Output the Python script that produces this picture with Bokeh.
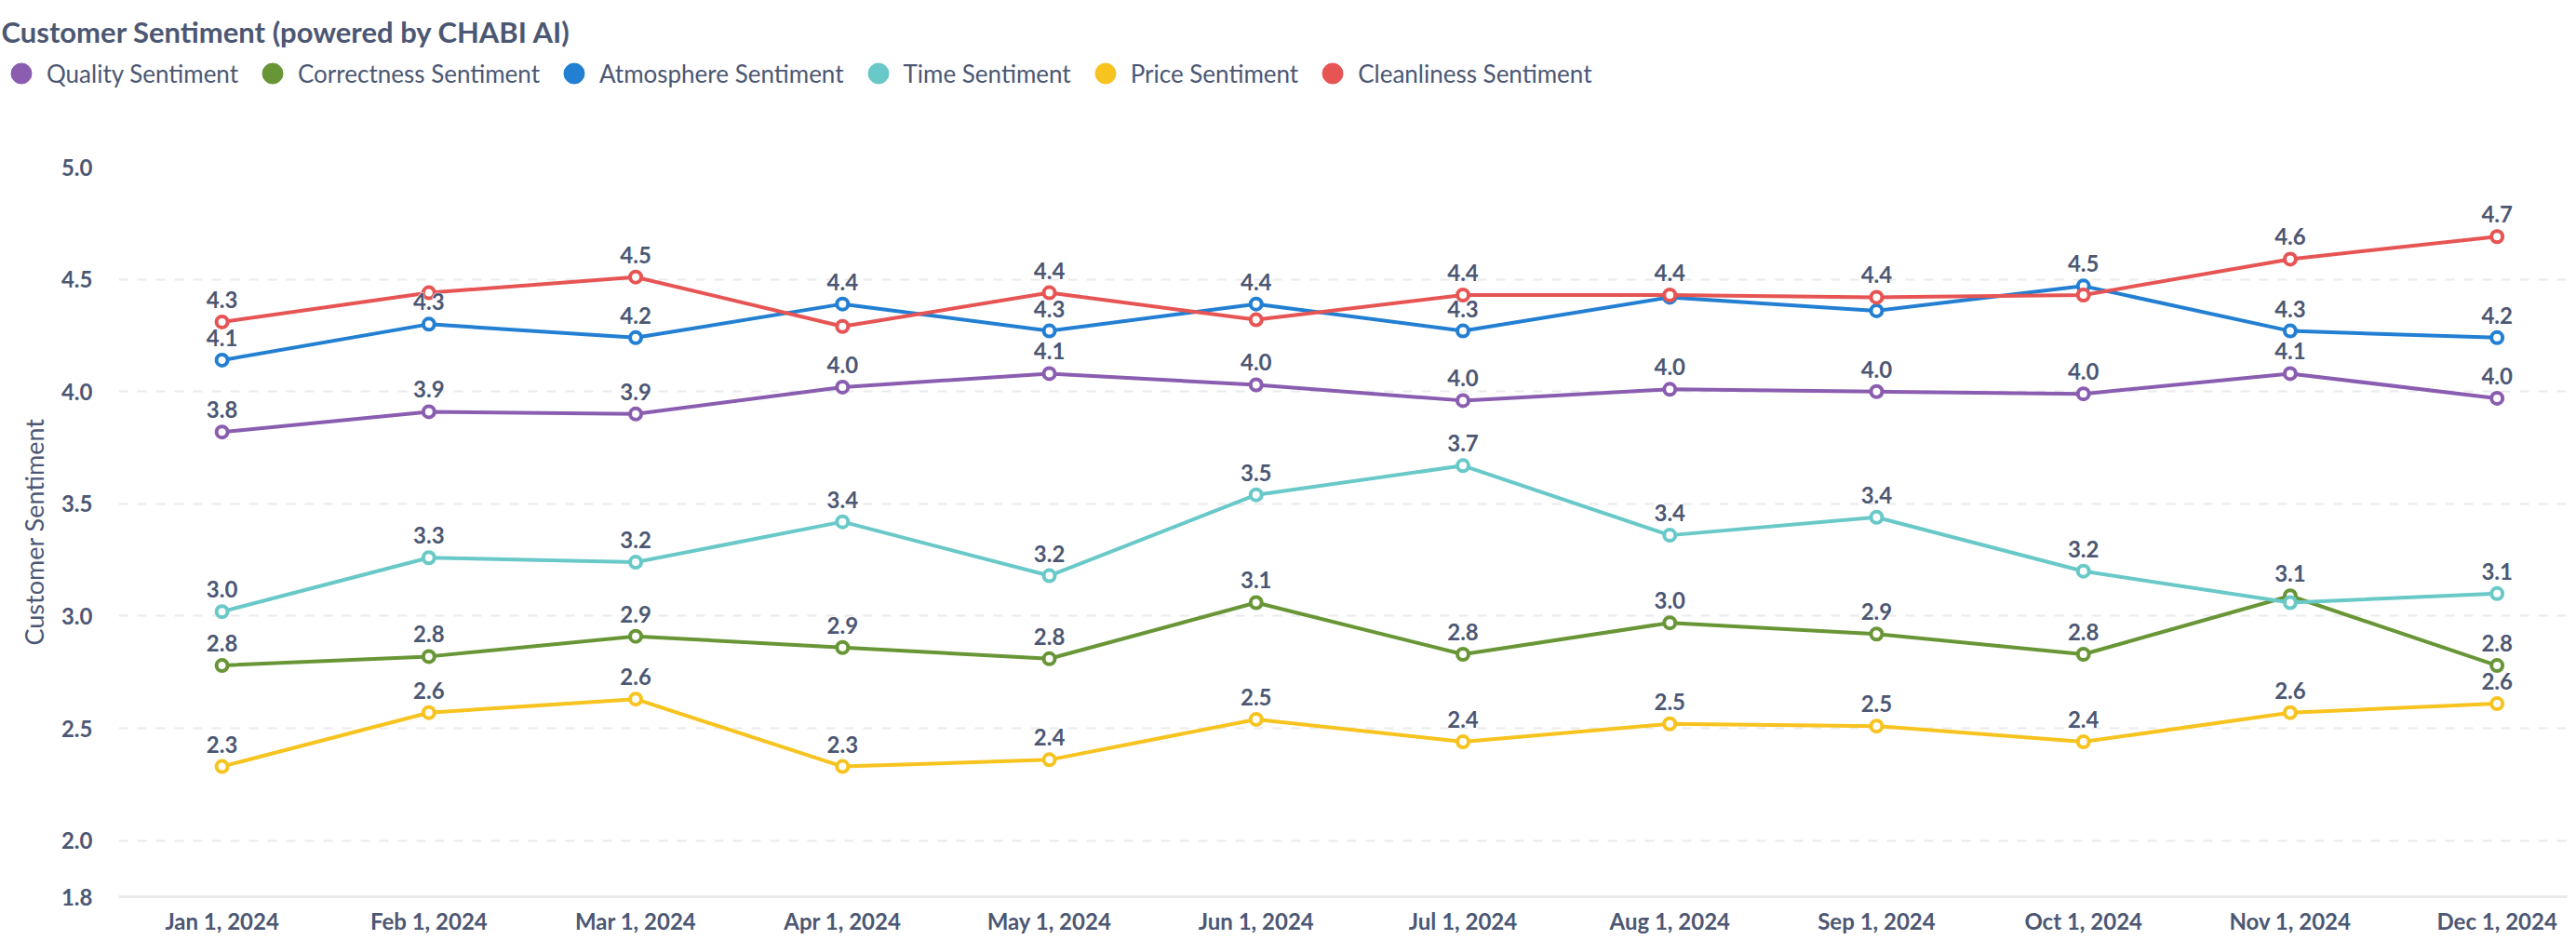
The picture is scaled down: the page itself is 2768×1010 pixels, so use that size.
from bokeh.plotting import figure
from bokeh.layouts import column
from bokeh.models import (Range1d, FixedTicker, PrintfTickFormatter, Legend, LegendItem,
                          Label, ColumnDataSource)
from bokeh.embed import file_html
from bokeh.resources import INLINE
from bokeh.core.properties import value

# ---------------- data ----------------
months = ["Jan 1, 2024", "Feb 1, 2024", "Mar 1, 2024", "Apr 1, 2024", "May 1, 2024",
          "Jun 1, 2024", "Jul 1, 2024", "Aug 1, 2024", "Sep 1, 2024", "Oct 1, 2024",
          "Nov 1, 2024", "Dec 1, 2024"]

quality = [3.82, 3.91, 3.90, 4.02, 4.08, 4.03, 3.96, 4.01, 4.00, 3.99, 4.08, 3.97]
correctness = [2.78, 2.82, 2.91, 2.86, 2.81, 3.06, 2.83, 2.97, 2.92, 2.83, 3.09, 2.78]
atmosphere = [4.14, 4.30, 4.24, 4.39, 4.27, 4.39, 4.27, 4.42, 4.36, 4.47, 4.27, 4.24]
time_s = [3.02, 3.26, 3.24, 3.42, 3.18, 3.54, 3.67, 3.36, 3.44, 3.20, 3.06, 3.10]
price = [2.33, 2.57, 2.63, 2.33, 2.36, 2.54, 2.44, 2.52, 2.51, 2.44, 2.57, 2.61]
cleanliness = [4.31, 4.44, 4.51, 4.29, 4.44, 4.32, 4.43, 4.43, 4.42, 4.43, 4.59, 4.69]

series_names = ["Quality Sentiment", "Correctness Sentiment", "Atmosphere Sentiment",
                "Time Sentiment", "Price Sentiment", "Cleanliness Sentiment"]
series_values = [quality, correctness, atmosphere, time_s, price, cleanliness]
series_colors = ["#8A5DB0", "#689636", "#227FD2", "#69C8C8", "#F7C31F", "#E75454"]

# data labels hidden in the original because they collide with another label
hidden_labels = {"Cleanliness Sentiment": [1, 3, 5, 9],
                 "Atmosphere Sentiment": [7, 8],
                 "Time Sentiment": [10]}

y_ticks = [1.75, 2.0, 2.5, 3.0, 3.5, 4.0, 4.5, 5.0]
chart_title = "Customer Sentiment (powered by CHABI AI)"
y_title = "Customer Sentiment"

# ---------------- style ----------------
TXT = "#4C5773"
FONT = "Lato"
W = 2760
HEAD_H = 153

# ---------- header: title + legend ----------
head = figure(width=W, height=HEAD_H, output_backend="svg", toolbar_location=None,
              x_range=Range1d(0, W), y_range=Range1d(HEAD_H, 0),
              min_border=0, x_axis_location=None, y_axis_location=None)
head.frame_align = False
head.outline_line_color = None
head.xgrid.visible = False
head.ygrid.visible = False

head.add_layout(Label(x=1, y=33, x_units="data", y_units="data", text=chart_title,
                      text_font=FONT, text_font_size="31px", text_font_style="bold",
                      text_color=TXT, text_baseline="alphabetic"))

items = []
nan = float("nan")
for name, col in zip(series_names, series_colors):
    r = head.scatter(x=[nan], y=[nan], marker="circle", size=22, fill_color=col,
                     line_color=col)
    items.append(LegendItem(label=name, renderers=[r]))
legend = Legend(items=items, orientation="horizontal", location=(-5, 47),
                glyph_width=55, glyph_height=55, label_standoff=-3, spacing=9,
                padding=0, margin=0, border_line_alpha=0, background_fill_alpha=0,
                label_text_font=FONT, label_text_font_size="26px",
                label_text_color=TXT, label_height=55)
head.add_layout(legend)

# ---------- main chart ----------
p = figure(frame_width=2631, frame_height=784, output_backend="svg",
           toolbar_location=None,
           x_range=Range1d(-0.5, 11.339), y_range=Range1d(1.75, 5.0),
           min_border_left=127, min_border_right=2, min_border_top=26,
           min_border_bottom=39)
p.frame_align = False
p.outline_line_color = None
p.xgrid.visible = False
p.ygrid.grid_line_color = "#E9EAEC"
p.ygrid.grid_line_width = 2
p.ygrid.grid_line_dash = "10 10"

p.yaxis.ticker = FixedTicker(ticks=y_ticks)
p.yaxis.formatter = PrintfTickFormatter(format="%.1f")
p.yaxis.axis_line_color = None
p.yaxis.major_tick_line_color = None
p.yaxis.major_tick_out = 0
p.yaxis.minor_tick_line_color = None
p.yaxis.minor_tick_out = 0
p.yaxis.major_label_text_font = FONT
p.yaxis.major_label_text_font_size = "24px"
p.yaxis.major_label_text_font_style = "bold"
p.yaxis.major_label_text_color = TXT
p.yaxis.major_label_standoff = 28
p.yaxis.axis_label = y_title
p.yaxis.axis_label_text_font = FONT
p.yaxis.axis_label_text_font_size = "27px"
p.yaxis.axis_label_text_font_style = "normal"
p.yaxis.axis_label_text_color = TXT
p.yaxis.axis_label_standoff = 10

p.xaxis.ticker = FixedTicker(ticks=list(range(len(months))))
p.xaxis.major_label_overrides = {i: m for i, m in enumerate(months)}
p.xaxis.axis_line_color = "#E9EAEC"
p.xaxis.axis_line_width = 3
p.xaxis.major_tick_line_color = None
p.xaxis.major_tick_out = 0
p.xaxis.minor_tick_line_color = None
p.xaxis.minor_tick_out = 0
p.xaxis.major_label_text_font = FONT
p.xaxis.major_label_text_font_size = "24px"
p.xaxis.major_label_text_font_style = "bold"
p.xaxis.major_label_text_color = TXT
p.xaxis.major_label_standoff = 11

idx = list(range(len(months)))
for name, vals, col in zip(series_names, series_values, series_colors):
    src = ColumnDataSource(dict(x=idx, y=vals))
    p.line("x", "y", source=src, line_color=col, line_width=4)
    p.scatter("x", "y", source=src, marker="circle", size=12, fill_color="white",
              line_color=col, line_width=4)

# data labels: white halo pass, then the text itself
label_sources = []
for name, vals in zip(series_names, series_values):
    hid = hidden_labels.get(name, [])
    xs = [i for i in idx if i not in hid]
    label_sources.append(ColumnDataSource(dict(
        x=xs, y=[vals[i] for i in xs], t=[f"{vals[i]:.1f}" for i in xs])))
common = dict(text_font=value(FONT), text_font_size="24px", text_font_style="bold",
              text_align="center", text_baseline="alphabetic", y_offset=-24)
for src in label_sources:
    p.text("x", "y", text="t", source=src, text_color="white",
           text_outline_color="white", **common)
for src in label_sources:
    p.text("x", "y", text="t", source=src, text_color=TXT, **common)

layout = column(head, p, spacing=0)
open("out.html", "w").write(file_html(layout, INLINE))
